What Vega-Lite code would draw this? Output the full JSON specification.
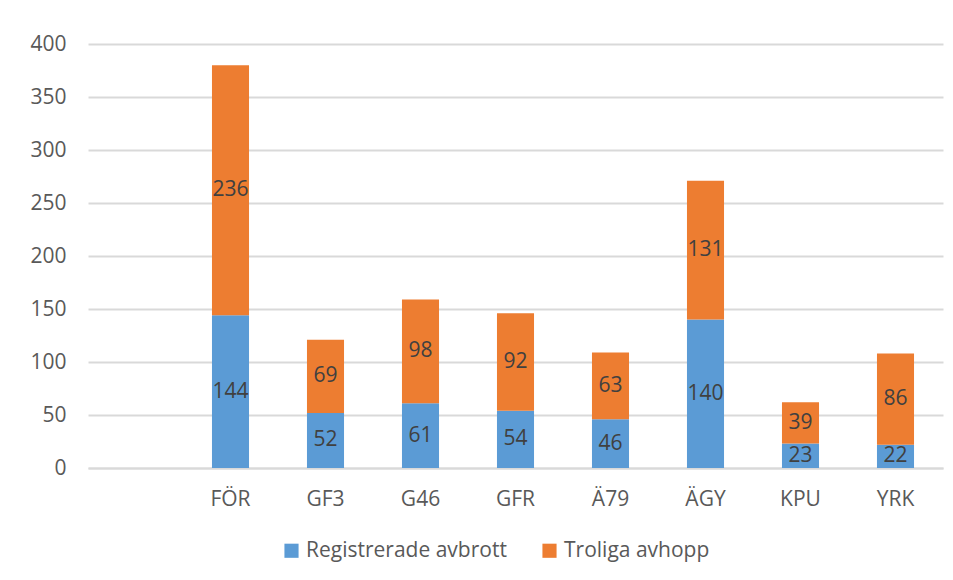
{
  "$schema": "https://vega.github.io/schema/vega-lite/v6.json",
  "width": 855,
  "height": 424,
  "autosize": {"type": "none"},
  "padding": {"left": 88, "top": 44, "right": 10, "bottom": 112},
  "background": "white",
  "config": {
    "view": {"stroke": null},
    "font": "Open Sans"
  },
  "data": {
    "values": [
      {"cat": "FÖR", "serie": "Registrerade avbrott", "o": 1, "value": 144},
      {"cat": "FÖR", "serie": "Troliga avhopp", "o": 2, "value": 236},
      {"cat": "GF3", "serie": "Registrerade avbrott", "o": 1, "value": 52},
      {"cat": "GF3", "serie": "Troliga avhopp", "o": 2, "value": 69},
      {"cat": "G46", "serie": "Registrerade avbrott", "o": 1, "value": 61},
      {"cat": "G46", "serie": "Troliga avhopp", "o": 2, "value": 98},
      {"cat": "GFR", "serie": "Registrerade avbrott", "o": 1, "value": 54},
      {"cat": "GFR", "serie": "Troliga avhopp", "o": 2, "value": 92},
      {"cat": "Ä79", "serie": "Registrerade avbrott", "o": 1, "value": 46},
      {"cat": "Ä79", "serie": "Troliga avhopp", "o": 2, "value": 63},
      {"cat": "ÄGY", "serie": "Registrerade avbrott", "o": 1, "value": 140},
      {"cat": "ÄGY", "serie": "Troliga avhopp", "o": 2, "value": 131},
      {"cat": "KPU", "serie": "Registrerade avbrott", "o": 1, "value": 23},
      {"cat": "KPU", "serie": "Troliga avhopp", "o": 2, "value": 39},
      {"cat": "YRK", "serie": "Registrerade avbrott", "o": 1, "value": 22},
      {"cat": "YRK", "serie": "Troliga avhopp", "o": 2, "value": 86}
    ]
  },
  "transform": [
    {"stack": "value", "groupby": ["cat"], "sort": [{"field": "o", "order": "ascending"}], "as": ["v0", "v1"]},
    {"calculate": "(datum.v0 + datum.v1) / 2", "as": "mid"}
  ],
  "encoding": {
    "x": {
      "field": "cat",
      "type": "nominal",
      "scale": {"domain": [" ", "FÖR", "GF3", "G46", "GFR", "Ä79", "ÄGY", "KPU", "YRK"], "paddingInner": 0.61, "paddingOuter": 0.305},
      "axis": {"title": null, "labelAngle": 0, "labelPadding": 20, "grid": false, "ticks": false, "domain": true, "domainColor": "#d9d9d9", "domainWidth": 2, "labelFontSize": 21, "labelColor": "#595959", "labelFont": "Open Sans"}
    }
  },
  "layer": [
    {
      "mark": {"type": "bar"},
      "encoding": {
        "y": {"field": "v1", "type": "quantitative", "scale": {"domain": [0, 400]},
          "axis": {"title": null, "values": [0, 50, 100, 150, 200, 250, 300, 350, 400], "labelPadding": 22, "domain": false, "ticks": false, "gridColor": "#d9d9d9", "gridWidth": 2, "labelFontSize": 21, "labelColor": "#595959", "labelFont": "Open Sans"}},
        "y2": {"field": "v0"},
        "color": {
          "field": "serie", "type": "nominal",
          "scale": {"domain": ["Registrerade avbrott", "Troliga avhopp"], "range": ["#5b9bd5", "#ed7d31"]},
          "legend": {"title": null, "orient": "none", "legendX": 193, "legendY": 496, "direction": "horizontal", "symbolType": "square", "symbolSize": 200, "symbolStrokeWidth": 0, "labelFontSize": 21, "labelColor": "#595959", "labelFont": "Open Sans", "labelLimit": 400, "columnPadding": 32, "labelOffset": 4}
        }
      }
    },
    {
      "mark": {"type": "text", "fontSize": 21, "color": "#404040", "baseline": "middle", "font": "Open Sans"},
      "encoding": {
        "y": {"field": "mid", "type": "quantitative"},
        "text": {"field": "value", "type": "quantitative"}
      }
    }
  ]
}
